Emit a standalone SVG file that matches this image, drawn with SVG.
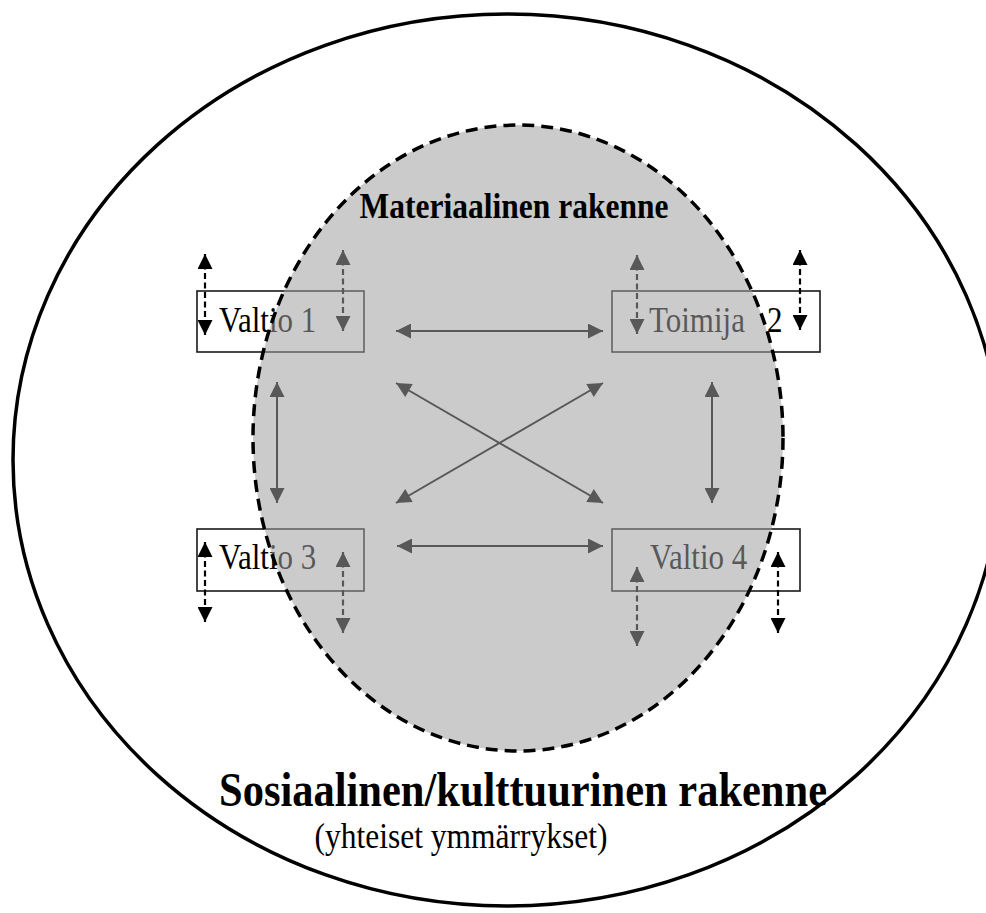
<svg xmlns="http://www.w3.org/2000/svg" width="986" height="913" viewBox="0 0 986 913">
<style>
  .box { fill: #ffffff; stroke: #1a1a1a; stroke-width: 1.6; }
  .lbl { font-family: "Liberation Serif", "Times New Roman", serif; font-size: 31px; fill: #000; }
  .solid { stroke: #000; stroke-width: 2; fill: none; marker-start: url(#ah); marker-end: url(#ah); }
  .dash { stroke: #000; stroke-width: 2.2; fill: none; stroke-dasharray: 6 3.5; marker-start: url(#ahs); marker-end: url(#ahs); }
  .title { font-family: "Liberation Serif", "Times New Roman", serif; fill: #000; text-anchor: middle; }
</style>
<defs>
  <marker id="ah" viewBox="0 0 16 16" refX="16" refY="8" markerUnits="userSpaceOnUse" markerWidth="16" markerHeight="15" orient="auto-start-reverse">
    <path d="M0,0 L16,8 L0,16 z" fill="#000"/>
  </marker>
  <marker id="ahs" viewBox="0 0 16 16" refX="16" refY="8" markerUnits="userSpaceOnUse" markerWidth="15" markerHeight="15" orient="auto-start-reverse">
    <path d="M0,0 L16,8 L0,16 z" fill="#000"/>
  </marker>
</defs>
<rect x="0" y="0" width="986" height="913" fill="#ffffff"/>
<g id="social-structure">
  <ellipse cx="507" cy="460" rx="494" ry="446" fill="#ffffff" stroke="#000" stroke-width="3.5"/>
</g>
<g id="valtio1">
  <rect class="box" x="197" y="291" width="167" height="61"/>
  <text class="lbl" transform="translate(219,332) scale(1,1.15)">Valtio 1</text>
</g>
<g id="toimija2">
  <rect class="box" x="612" y="291" width="208" height="61"/>
  <text class="lbl" transform="translate(649,332) scale(1,1.15)">Toimija<tspan x="118">2</tspan></text>
</g>
<g id="valtio3">
  <rect class="box" x="197" y="529" width="167" height="62"/>
  <text class="lbl" transform="translate(219,569) scale(1,1.15)">Valtio 3</text>
</g>
<g id="valtio4">
  <rect class="box" x="612" y="529" width="188" height="62"/>
  <text class="lbl" transform="translate(650,569) scale(1,1.15)">Valtio 4</text>
</g>
<g id="connectors">
  <line class="solid" x1="396" y1="331" x2="603" y2="331"/>
  <line class="solid" x1="397" y1="546" x2="603" y2="546"/>
  <line class="solid" x1="396" y1="383" x2="603" y2="503"/>
  <line class="solid" x1="603" y1="383" x2="396" y2="503"/>
  <line class="solid" x1="277" y1="382" x2="277" y2="503"/>
  <line class="solid" x1="712" y1="382" x2="712" y2="503"/>
  <line class="dash" x1="205" y1="254" x2="205" y2="335"/>
  <line class="dash" x1="343" y1="250" x2="343" y2="331"/>
  <line class="dash" x1="637" y1="255" x2="637" y2="334"/>
  <line class="dash" x1="800" y1="250" x2="800" y2="330"/>
  <line class="dash" x1="205" y1="542" x2="205" y2="622"/>
  <line class="dash" x1="343" y1="552" x2="343" y2="633"/>
  <line class="dash" x1="637" y1="567" x2="637" y2="646"/>
  <line class="dash" x1="778" y1="552" x2="778" y2="633"/>
</g>
<g id="material-structure">
  <ellipse cx="518" cy="438" rx="265" ry="313" fill="#a0a0a0" fill-opacity="0.55"/>
  <ellipse cx="518" cy="438" rx="265" ry="313" fill="none" stroke="#000" stroke-width="3.5" stroke-dasharray="12 7"/>
  <text class="title" transform="translate(514,218) scale(1,1.12)" font-size="31.5" font-weight="bold">Materiaalinen rakenne</text>
</g>
<g id="social-labels">
  <text class="title" transform="translate(523,806) scale(1,1.12)" font-size="42.5" font-weight="bold">Sosiaalinen/kulttuurinen rakenne</text>
  <text class="title" transform="translate(461,848) scale(1,1.15)" font-size="31.5">(yhteiset ymmärrykset)</text>
</g>
</svg>
